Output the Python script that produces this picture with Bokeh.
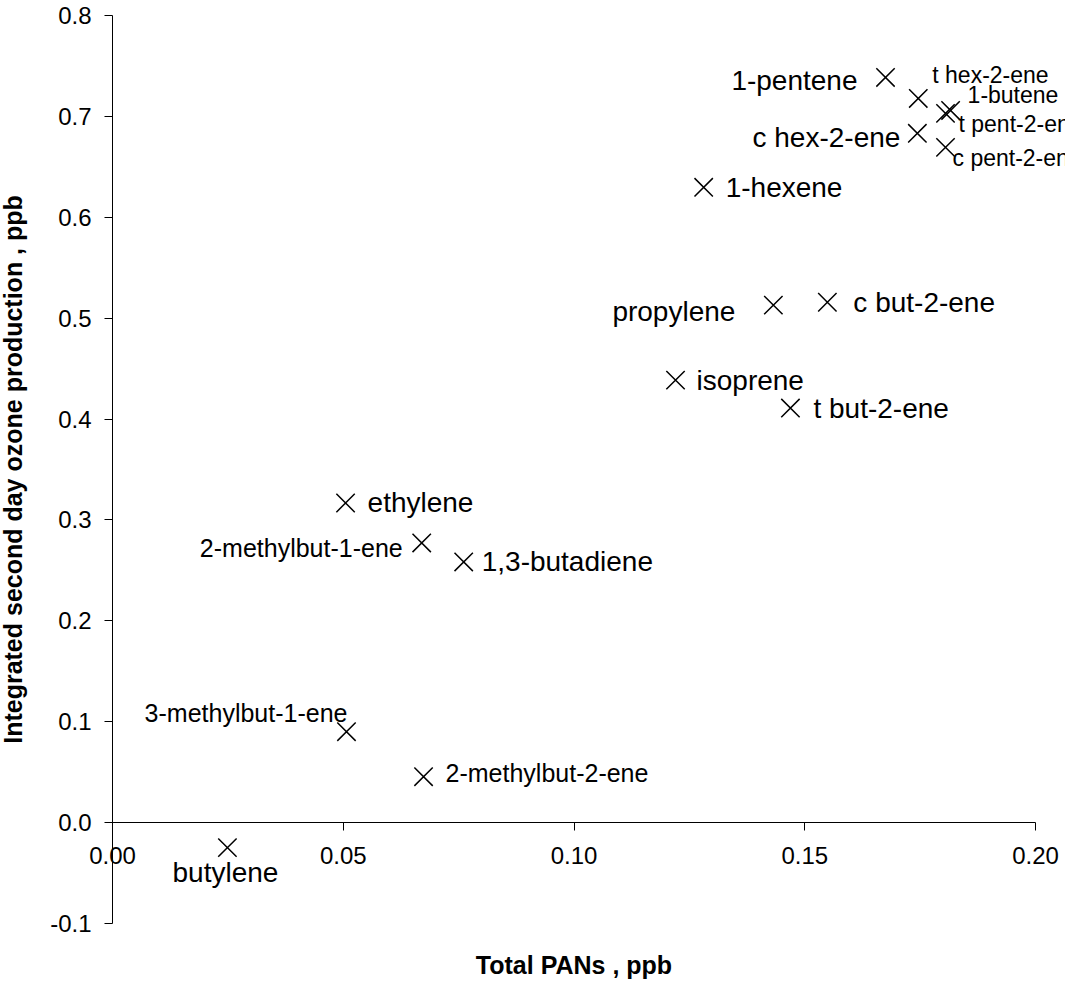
from bokeh.plotting import figure
from bokeh.models import ColumnDataSource, Range1d, LinearAxis, FixedTicker, NumeralTickFormatter
from bokeh.core.properties import value
from bokeh.embed import file_html
from bokeh.resources import INLINE

# ---- data ----
compounds = ["1-pentene", "t hex-2-ene", "1-butene", "t pent-2-ene", "c hex-2-ene",
             "c pent-2-ene", "1-hexene", "propylene", "c but-2-ene", "isoprene",
             "t but-2-ene", "ethylene", "2-methylbut-1-ene", "1,3-butadiene",
             "3-methylbut-1-ene", "2-methylbut-2-ene", "butylene"]
total_pans = [0.1675, 0.1746, 0.1816, 0.1805, 0.1744,
              0.1805, 0.1281, 0.1432, 0.1549, 0.1220,
              0.1469, 0.0505, 0.0670, 0.0761,
              0.0507, 0.0674, 0.0249]
ozone_2nd_day = [0.7386, 0.7178, 0.7059, 0.7030, 0.6832,
                 0.6693, 0.6297, 0.5129, 0.5158, 0.4386,
                 0.4109, 0.3168, 0.2772, 0.2584,
                 0.0901, 0.0455, -0.0248]
x_ticks = [0.0, 0.05, 0.10, 0.15, 0.20]
y_ticks = [-0.1, 0.0, 0.1, 0.2, 0.3, 0.4, 0.5, 0.6, 0.7, 0.8]

# ---- label layout (screen offsets / styles) ----
label_dx = [-28, 14, 17, 13, -17, 7, 22, -38, 26, 21, 23, 22, -19, 18, 1, 22, -2]
label_dy = [3, -23, -15, 11, 4, 11, 0, 6, 0, 0, 0, 0, 5, 0, -19, -4, 25]
label_align = ["right", "left", "left", "left", "right", "left", "left", "right", "left",
               "left", "left", "left", "right", "left", "right", "left", "center"]
label_size = ["28px", "23px", "23px", "23px", "28px", "23px", "28px", "28px", "28px",
              "28px", "28px", "28px", "25px", "28px", "25px", "25px", "28px"]

FONT = "Liberation Sans"
W, H = 1065, 981
# pixel geometry of the plotting area
PX_X0, PX_X02 = 112, 1035      # screen x of 0.00 and 0.20
PX_Y08, PX_YM01 = 15, 923      # screen y of 0.8 and -0.1
sx = (PX_X02 - PX_X0) / 0.2
sy = (PX_YM01 - PX_Y08) / 0.9

src = ColumnDataSource(dict(x=total_pans, y=ozone_2nd_day, name=compounds,
                            dx=label_dx, dy=label_dy, align=label_align, size=label_size))

p = figure(width=W, height=H,
           x_range=Range1d(-PX_X0 / sx, (W - PX_X0) / sx),
           y_range=Range1d(0.8 - (H - PX_Y08) / sy, 0.8 + PX_Y08 / sy),
           output_backend="svg", toolbar_location=None,
           x_axis_location=None, y_axis_location=None,
           min_border_left=0, min_border_right=0, min_border_top=0, min_border_bottom=0)
p.grid.visible = False
p.outline_line_color = None
p.background_fill_color = "white"
p.border_fill_color = "white"

yaxis = LinearAxis(ticker=FixedTicker(ticks=y_ticks), formatter=NumeralTickFormatter(format="0.0"),
                   axis_label="Integrated second day ozone production , ppb",
                   fixed_location=0, bounds=(-0.1, 0.8))
yaxis.major_tick_out = 8
yaxis.major_tick_in = 0
yaxis.minor_tick_out = 0
yaxis.minor_tick_in = 0
yaxis.major_label_standoff = 13
yaxis.axis_label_standoff = 20
yaxis.major_label_text_font = FONT
yaxis.major_label_text_font_size = "24px"
yaxis.major_label_text_color = "black"
yaxis.axis_label_text_font = FONT
yaxis.axis_label_text_font_size = "25px"
yaxis.axis_label_text_font_style = "bold"
yaxis.axis_label_text_color = "black"
yaxis.axis_line_color = "black"
yaxis.major_tick_line_color = "black"
p.add_layout(yaxis, "left")

xaxis = LinearAxis(ticker=FixedTicker(ticks=x_ticks), formatter=NumeralTickFormatter(format="0.00"),
                   axis_label="Total PANs , ppb",
                   fixed_location=0, bounds=(0, 0.2))
xaxis.major_tick_out = 8
xaxis.major_tick_in = 0
xaxis.minor_tick_out = 0
xaxis.minor_tick_in = 0
xaxis.major_label_standoff = 16
xaxis.axis_label_standoff = 84
xaxis.major_label_text_font = FONT
xaxis.major_label_text_font_size = "24px"
xaxis.major_label_text_color = "black"
xaxis.axis_label_text_font = FONT
xaxis.axis_label_text_font_size = "25px"
xaxis.axis_label_text_font_style = "bold"
xaxis.axis_label_text_color = "black"
xaxis.axis_line_color = "black"
xaxis.major_tick_line_color = "black"
p.add_layout(xaxis, "below")

p.scatter(x="x", y="y", source=src, marker="x", size=26, line_color="black", line_width=1.5)
p.text(x="x", y="y", text="name", source=src, x_offset="dx", y_offset="dy",
       text_align="align", text_baseline="middle", text_font_size="size",
       text_font=value(FONT), text_color="black")

open("out.html", "w").write(file_html(p, INLINE))
